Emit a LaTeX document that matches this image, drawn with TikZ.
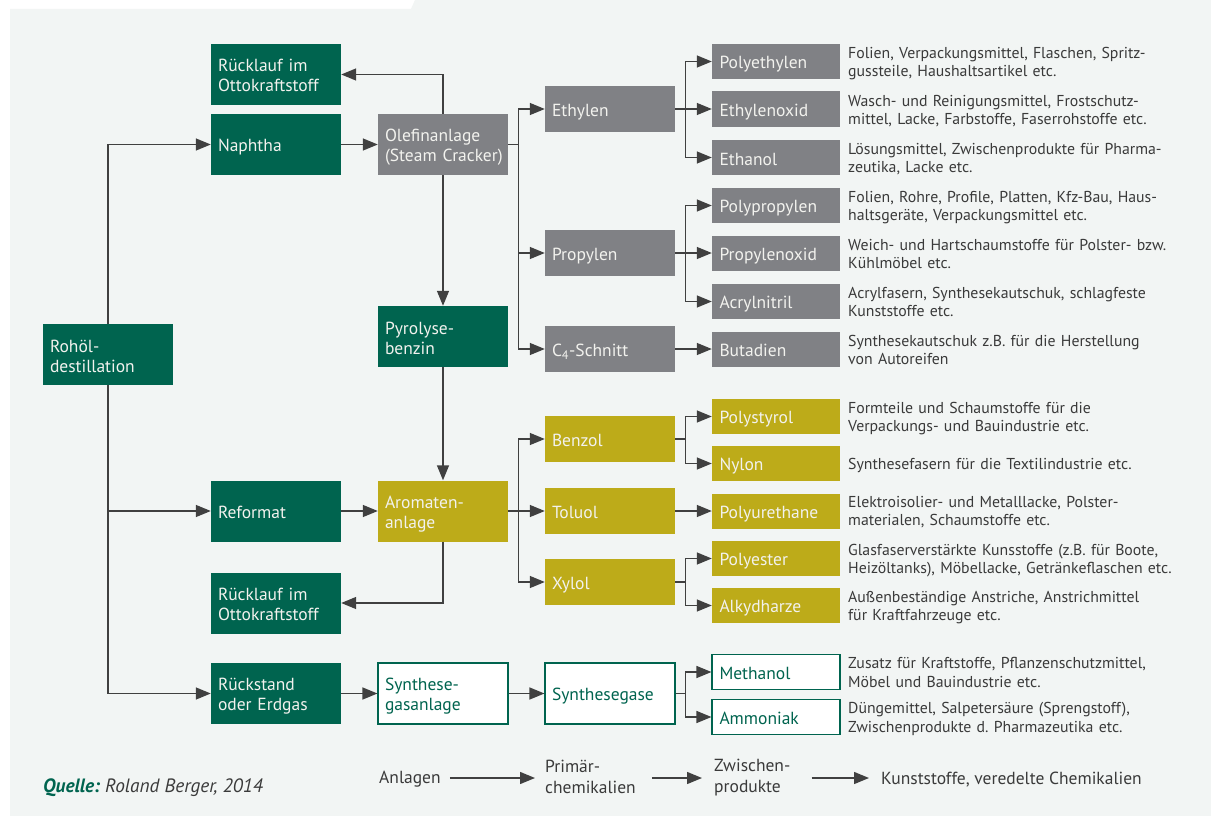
\documentclass[tikz,border=0pt]{standalone}
\usepackage{fontspec}
\setmainfont{PT Sans}
\usetikzlibrary{arrows.meta}
\definecolor{dgreen}{HTML}{00644F}
\definecolor{olive}{HTML}{BDAB19}
\definecolor{gbox}{HTML}{808185}
\definecolor{panel}{HTML}{F2F5F4}
\definecolor{arrc}{HTML}{404040}
\definecolor{txt}{HTML}{3A3A3A}
\definecolor{boxtext}{HTML}{F2F2EE}
\frenchspacing
\begin{document}
\begin{tikzpicture}[x=1pt,y=-1pt,
  base/.style={rectangle, inner sep=0pt, align=left, font=\fontsize{17.5}{20}\selectfont,
    execute at begin node={\rule{0pt}{18pt}}, execute at end node={\rule[-3pt]{0pt}{0pt}}},
  big/.style={base, minimum width=130pt, text width=116pt, minimum height=61pt},
  mid/.style={base, minimum width=130pt, text width=116pt, minimum height=46pt},
  small/.style={base, minimum width=128pt, text width=113pt, minimum height=35pt},
  green/.style={fill=dgreen, text=boxtext},
  grey/.style={fill=gbox, text=boxtext},
  oliv/.style={fill=olive, text=boxtext},
  open/.style={fill=white, draw=dgreen, line width=1.1pt, text=dgreen},
  desc/.style={anchor=west, inner sep=0pt, text width=350pt, align=left, text=txt, font=\fontsize{15.8}{18.5}\selectfont,
    execute at begin node={\rule{0pt}{15pt}}, execute at end node={\rule[-2.6pt]{0pt}{0pt}}},
  leg/.style={anchor=west, inner sep=0pt, align=left, text=txt, font=\fontsize{17.5}{21}\selectfont,
    execute at begin node={\rule{0pt}{15pt}}, execute at end node={\rule[-3pt]{0pt}{0pt}}},
  arr/.style={draw=arrc, line width=1.4pt, -{Triangle[length=15pt,width=12pt]}},
  line/.style={draw=arrc, line width=1.4pt}
]
\useasboundingbox (0,0) rectangle (1211,816);
\fill[white] (0,0) rectangle (1211,816);
\fill[panel] (10,816) -- (10,9) -- (411,9) -- (415,0) -- (1211,0) -- (1211,816) -- cycle;

% left column
\node[big, green] (rohoel) at (108,354.5) {Rohöl-\\destillation};
% second column
\node[big, green] (r1) at (276,74.5) {Rücklauf im\\Ottokraftstoff};
\node[big, green] (naphtha) at (276,144.5) {Naphtha};
\node[big, green] (reformat) at (276,511) {Reformat};
\node[big, green] (r2) at (276,603) {Rücklauf im\\Ottokraftstoff};
\node[big, green] (rueck) at (276,693.5) {Rückstand\\oder Erdgas};
% third column
\node[big, grey] (olef) at (443,144.5) {Olefinanlage\\\mbox{(Steam Cracker)}};
\node[big, green] (pyro) at (443,336.5) {Pyrolyse-\\benzin};
\node[big, oliv] (arom) at (443,511) {Aromaten-\\anlage};
\node[big, open] (sga) at (443,693.5) {Synthese-\\gasanlage};
% fourth column
\node[mid, grey] (ethylen) at (610,109) {Ethylen};
\node[mid, grey] (propylen) at (610,253) {Propylen};
\node[mid, grey] (c4) at (610,349) {C\textsubscript{4}-Schnitt};
\node[mid, oliv] (benzol) at (610,439) {Benzol};
\node[mid, oliv] (toluol) at (610,511) {Toluol};
\node[mid, oliv] (xylol) at (610,582) {Xylol};
\node[big, open] (sg) at (610,693.5) {Synthesegase};
% fifth column
\node[small, grey] (pe) at (776,61.5) {Polyethylen};
\node[small, grey] (eo) at (776,109) {Ethylenoxid};
\node[small, grey] (etoh) at (776,157.5) {Ethanol};
\node[small, grey] (pp) at (776,205.5) {Polypropylen};
\node[small, grey] (po) at (776,253) {Propylenoxid};
\node[small, grey] (an) at (776,301.5) {Acrylnitril};
\node[small, grey] (bd) at (776,349) {Butadien};
\node[small, oliv] (ps) at (776,416.5) {Polystyrol};
\node[small, oliv] (ny) at (776,463.5) {Nylon};
\node[small, oliv] (pu) at (776,511) {Polyurethane};
\node[small, oliv] (pes) at (776,558.5) {Polyester};
\node[small, oliv] (alk) at (776,605.5) {Alkydharze};
\node[small, open] (meoh) at (776,672) {Methanol};
\node[small, open] (nh3) at (776,717) {Ammoniak};

% descriptions
\node[desc] (dpe) at (848,61.5) {Folien, Verpackungsmittel, Flaschen, Spritz-\\gussteile, Haushaltsartikel etc.};
\node[desc] (deo) at (848,109.5) {Wasch- und Reinigungsmittel, Frostschutz-\\mittel, Lacke, Farbstoffe, Faserrohstoffe etc.};
\node[desc] (detoh) at (848,157.5) {Lösungsmittel, Zwischenprodukte für Pharma-\\zeutika, Lacke etc.};
\node[desc] (dpp) at (848,205.5) {Folien, Rohre, Profile, Platten, Kfz-Bau, Haus-\\haltsgeräte, Verpackungsmittel etc.};
\node[desc] (dpo) at (848,253.5) {Weich- und Hartschaumstoffe für Polster- bzw.\\Kühlmöbel etc.};
\node[desc] (dan) at (848,301.5) {Acrylfasern, Synthesekautschuk, schlagfeste\\Kunststoffe etc.};
\node[desc] (dbd) at (848,349.5) {Synthesekautschuk z.B. für die Herstellung\\von Autoreifen};
\node[desc] (dps) at (848,416.5) {Formteile und Schaumstoffe für die\\Verpackungs- und Bauindustrie etc.};
\node[desc] (dny) at (848,463.5) {Synthesefasern für die Textilindustrie etc.};
\node[desc] (dpu) at (848,510.5) {Elektroisolier- und Metalllacke, Polster-\\materialen, Schaumstoffe etc.};
\node[desc] (dpes) at (848,558.5) {Glasfaserverstärkte Kunsstoffe (z.B. für Boote,\\Heizöltanks), Möbellacke, Getränkeflaschen etc.};
\node[desc] (dalk) at (848,605.5) {Außenbeständige Anstriche, Anstrichmittel\\für Kraftfahrzeuge etc.};
\node[desc] (dmeoh) at (848,672) {Zusatz für Kraftstoffe, Pflanzenschutzmittel,\\Möbel und Bauindustrie etc.};
\node[desc] (dnh3) at (848,717) {Düngemittel, Salpetersäure (Sprengstoff),\\Zwischenprodukte d. Pharmazeutika etc.};

% connectors: trunk
\draw[arr] (rohoel.north) |- (naphtha.west);
\draw[arr] (rohoel.south) |- (reformat.west);
\draw[arr] (rohoel.south) |- (rueck.west);
\draw[arr] (naphtha) -- (olef);
\draw[arr] (olef.north) |- (r1.east);
\draw[arr] (olef) -- (pyro);
\draw[arr] (pyro) -- (arom);
\draw[arr] (reformat) -- (arom);
\draw[arr] (arom.south) |- (r2.east);
\draw[arr] (rueck) -- (sga);
\draw[arr] (sga) -- (sg);

% branch junctions
\path (olef.east) ++(10,0) coordinate (jo);
\path (arom.east) ++(10,0) coordinate (ja);
\path (ethylen.east) ++(10,0) coordinate (je);
\path (propylen.east) ++(10,0) coordinate (jp);
\path (benzol.east) ++(10,0) coordinate (jb);
\path (xylol.east) ++(10,0) coordinate (jx);
\path (sg.east) ++(10,0) coordinate (js);

\draw[line] (olef.east) -- (jo);
\draw[arr] (jo) |- (ethylen.west);
\draw[arr] (jo) |- (propylen.west);
\draw[arr] (jo) |- (c4.west);

\draw[line] (arom.east) -- (ja);
\draw[arr] (ja) |- (benzol.west);
\draw[arr] (ja) |- (toluol.west);
\draw[arr] (ja) |- (xylol.west);

\draw[line] (ethylen.east) -- (je);
\draw[arr] (je) |- (pe.west);
\draw[arr] (je) |- (eo.west);
\draw[arr] (je) |- (etoh.west);

\draw[line] (propylen.east) -- (jp);
\draw[arr] (jp) |- (pp.west);
\draw[arr] (jp) |- (po.west);
\draw[arr] (jp) |- (an.west);

\draw[arr] (c4) -- (bd);

\draw[line] (benzol.east) -- (jb);
\draw[arr] (jb) |- (ps.west);
\draw[arr] (jb) |- (ny.west);

\draw[arr] (toluol) -- (pu);

\draw[line] (xylol.east) -- (jx);
\draw[arr] (jx) |- (pes.west);
\draw[arr] (jx) |- (alk.west);

\draw[line] (sg.east) -- (js);
\draw[arr] (js) |- (meoh.west);
\draw[arr] (js) |- (nh3.west);

% legend
\node[leg] (l1) at (379,778) {Anlagen};
\node[leg] (l2) at (545,778) {Primär-\\chemikalien};
\node[leg] (l3) at (714,778) {Zwischen-\\produkte};
\node[leg] (l4) at (881,778) {Kunststoffe, veredelte Chemikalien};
\draw[arr, shorten <=9pt, shorten >=10pt] (l1.east) -- (l2.west);
\draw[arr, shorten <=16pt, shorten >=12pt] (l2.east) -- (l3.west);
\draw[arr, shorten <=21pt, shorten >=12pt] (l3.east) -- (l4.west);

% source
\node[anchor=west, inner sep=0pt, text=txt, font=\fontsize{19.3}{21}\selectfont\itshape,
  execute at begin node={\rule{0pt}{15pt}}, execute at end node={\rule[-3pt]{0pt}{0pt}}] (src) at (43,787) {\textbf{\color{dgreen}Quelle:} Roland Berger, 2014};
\end{tikzpicture}
\end{document}
